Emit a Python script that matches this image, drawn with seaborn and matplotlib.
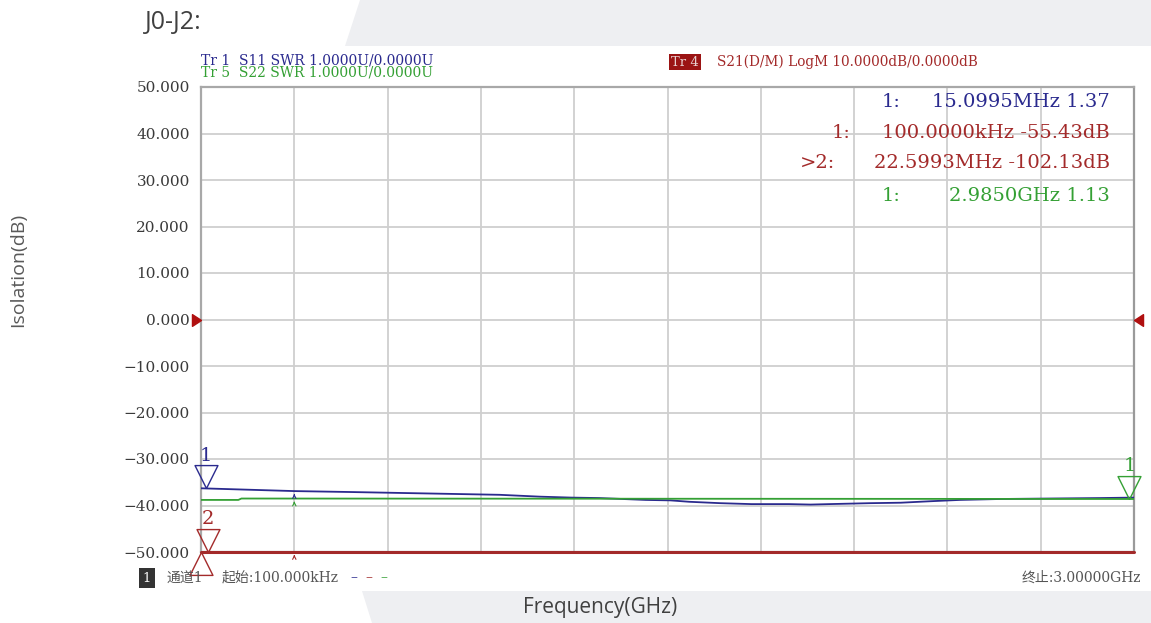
import numpy as np
import pandas as pd
import matplotlib
matplotlib.use("Agg")
import matplotlib.pyplot as plt
from matplotlib.path import Path
from matplotlib.markers import MarkerStyle
from matplotlib.patches import Polygon
import seaborn as sns

# ---------------- data ----------------
s11_freq_ghz = [0.0001, 0.30, 0.48, 0.64, 0.80, 0.96, 1.09, 1.19, 1.28, 1.43, 1.51,
                1.57, 1.67, 1.77, 1.89, 1.96, 2.02, 2.15, 2.25, 2.34, 2.44, 2.57,
                2.73, 2.89, 3.0]
s11_db = [-36.3, -36.9, -37.1, -37.3, -37.5, -37.7, -38.1, -38.3, -38.4, -38.8, -38.9,
          -39.2, -39.5, -39.7, -39.7, -39.8, -39.7, -39.5, -39.4, -39.1, -38.8, -38.6,
          -38.5, -38.4, -38.3]
s22_freq_ghz = [0.0001, 0.12, 0.13, 3.0]
s22_db = [-38.8, -38.8, -38.5, -38.6]
s21_freq_ghz = [0.0001, 3.0]
s21_db_display = [-50.0, -50.0]          # trace clipped at the bottom of the screen

y_ticks = [50, 40, 30, 20, 10, 0, -10, -20, -30, -40, -50]
x_ticks = [0.0, 0.3, 0.6, 0.9, 1.2, 1.5, 1.8, 2.1, 2.4, 2.7, 3.0]

header_left = ["Tr 1  S11 SWR 1.0000U/0.0000U", "Tr 5  S22 SWR 1.0000U/0.0000U"]
header_right_tag = "Tr 4"
header_right = "S21(D/M) LogM 10.0000dB/0.0000dB"
readout_ids = ["1:", "1:", ">2:", "1:"]
readout_vals = ["15.0995MHz 1.37", "100.0000kHz -55.43dB", "22.5993MHz -102.13dB", "2.9850GHz 1.13"]
start_label = "起始:100.000kHz"
stop_label = "终止:3.00000GHz"
channel_label = "通道1"

BLUE = "#2a2a8e"
RED = "#a32a2a"
GREEN = "#34a034"
MARKRED = "#b01010"

# ---------------- figure ----------------
sns.set_theme(style="white")
plt.rcParams["font.family"] = ["DejaVu Serif", "Noto Sans CJK SC"]
plt.rcParams["axes.unicode_minus"] = True

W, H = 1151, 623
fig = plt.figure(figsize=(W / 100, H / 100), dpi=100)
fig.patch.set_facecolor("white")

def fx(x):
    return x / W

def fy(y):
    return 1 - y / H

# faint background shapes of the slide
for pts in ([(360, 0), (1151, 0), (1151, 46), (345, 46)],
            [(362, 591), (1151, 591), (1151, 623), (372, 623)]):
    fig.add_artist(Polygon([(fx(a), fy(b)) for a, b in pts], closed=True,
                           transform=fig.transFigure, facecolor="#eeeff2",
                           edgecolor="none", zorder=-5))

ax = fig.add_axes([fx(201), fy(552), fx(1134) - fx(201), fy(87) - fy(552)])
ax.set_facecolor("white")

df = pd.concat([
    pd.DataFrame({"freq": s11_freq_ghz, "val": s11_db, "trace": "S11"}),
    pd.DataFrame({"freq": s22_freq_ghz, "val": s22_db, "trace": "S22"}),
    pd.DataFrame({"freq": s21_freq_ghz, "val": s21_db_display, "trace": "S21"}),
], ignore_index=True)

sns.lineplot(data=df, x="freq", y="val", hue="trace", estimator=None, sort=True,
             palette={"S11": BLUE, "S22": GREEN, "S21": RED}, legend=False,
             linewidth=1.3, ax=ax, zorder=3)
# S21 trace sits on the bottom edge: draw it above the frame
for ln in ax.lines:
    if np.allclose(ln.get_ydata(), -50):
        ln.set_linewidth(2.2)
        ln.set_clip_on(False)
        ln.set_zorder(5)

ax.set_xlim(0, 3.0)
ax.set_ylim(-50, 50)
ax.set_xticks(x_ticks)
ax.set_xticklabels([])
ax.set_yticks(y_ticks)
ax.set_yticklabels([f"{v:.3f}".replace("-", "\u2212") for v in y_ticks],
                   fontsize=11, color="#3a3a3a")
ax.tick_params(axis="y", length=0, pad=8)
ax.tick_params(axis="x", length=0)
ax.grid(True, color="#cfcfcf", linewidth=1.3)
ax.set_axisbelow(True)
for side in ("left", "right", "top", "bottom"):
    ax.spines[side].set_color("#a8a8a8")
    ax.spines[side].set_linewidth(1.6)
ax.spines["right"].set_color("#9a9a9a")
ax.set_xlabel("")
ax.set_ylabel("")

# reference-level triangles at 0 dB
ref_left = MarkerStyle(Path([(0, 0), (-1, 0.65), (-1, -0.65), (0, 0)]))
ref_right = MarkerStyle(Path([(0, 0), (1, 0.65), (1, -0.65), (0, 0)]))
ax.plot([0], [0], marker=ref_left, markersize=13, color=MARKRED, clip_on=False, zorder=6)
ax.plot([3.0], [0], marker=ref_right, markersize=13, color=MARKRED, clip_on=False, zorder=6)

# marker triangles (tip on the trace)
down_tri = MarkerStyle(Path([(0, 0), (-0.5, 1), (0.5, 1), (0, 0)]))
up_tri = MarkerStyle(Path([(0, 0), (-0.5, -1), (0.5, -1), (0, 0)]))

def marker(x, y, style, color, label, dy_label, dx_label=0):
    ax.plot([x], [y], marker=style, markersize=33, markerfacecolor="none",
            markeredgecolor=color, markeredgewidth=1.0, clip_on=False, zorder=7)
    if label:
        ax.annotate(label, xy=(x, y), xytext=(dx_label, dy_label), textcoords="offset points",
                    ha="center", va="bottom", fontsize=14, color=color,
                    annotation_clip=False)

marker(0.0151, s11_db[0], down_tri, BLUE, "1", 17)
marker(0.0226, -50, down_tri, RED, "2", 17)
marker(0.0001, -50, up_tri, RED, "", 0)
marker(2.985, -38.6, down_tri, GREEN, "1", 17)

# small stimulus arrows at 0.3 GHz
for val, c in ((-36.9, BLUE), (-38.5, GREEN), (-50.0, RED)):
    ax.annotate("", xy=(0.3, val), xytext=(0.3, val - 1.6),
                arrowprops=dict(arrowstyle="->", color=c, lw=0.8, mutation_scale=6),
                annotation_clip=False, zorder=6)

# ---------------- header texts ----------------
fig.text(fx(201), fy(60), header_left[0], fontsize=10, color=BLUE, va="center", ha="left")
fig.text(fx(201), fy(72), header_left[1], fontsize=10, color=GREEN, va="center", ha="left")
fig.text(fx(671), fy(62), header_right_tag, fontsize=9.5, color="#e8d0d0", va="center", ha="left",
         bbox=dict(boxstyle="square,pad=0.15", facecolor="#9b1414", edgecolor="none"))
fig.text(fx(717), fy(62), header_right, fontsize=9.8, color=RED, va="center", ha="left")

# marker readouts
readout_colors = [BLUE, RED, RED, GREEN]
readout_y = [102, 133, 163, 196]
readout_id_x = [900, 850, 835, 900]
for i in range(4):
    fig.text(fx(readout_id_x[i]), fy(readout_y[i]), readout_ids[i], fontsize=14,
             color=readout_colors[i], ha="right", va="center")
    fig.text(fx(1110), fy(readout_y[i]), readout_vals[i], fontsize=14,
             color=readout_colors[i], ha="right", va="center")

# ---------------- footer texts ----------------
fig.text(fx(147), fy(578), "1", fontsize=9.5, color="white", ha="center", va="center",
         bbox=dict(boxstyle="square,pad=0.3", facecolor="#333333", edgecolor="none"))
fig.text(fx(167), fy(578), channel_label, fontsize=10, color="#555555", ha="left", va="center")
fig.text(fx(222), fy(578), start_label, fontsize=10, color="#555555", ha="left", va="center")
for i, c in enumerate((BLUE, RED, GREEN)):
    fig.text(fx(350 + 15 * i), fy(577), "\u2013", fontsize=10, color=c, ha="left", va="center")
fig.text(fx(1141), fy(578), stop_label, fontsize=10, color="#555555", ha="right", va="center")

# ---------------- slide texts ----------------
fig.text(fx(145), fy(22), "J0-J2:", fontsize=18, color="#404040", ha="left", va="center",
         family="Open Sans")
fig.text(fx(18), fy(270), "Isolation(dB)", fontsize=14, color="#595959", ha="center",
         va="center", rotation=90, family="Open Sans")
fig.text(fx(600), fy(608), "Frequency(GHz)", fontsize=15, color="#404040", ha="center",
         va="center", family="Open Sans")

fig.savefig("out.png", dpi=100, facecolor="white")
